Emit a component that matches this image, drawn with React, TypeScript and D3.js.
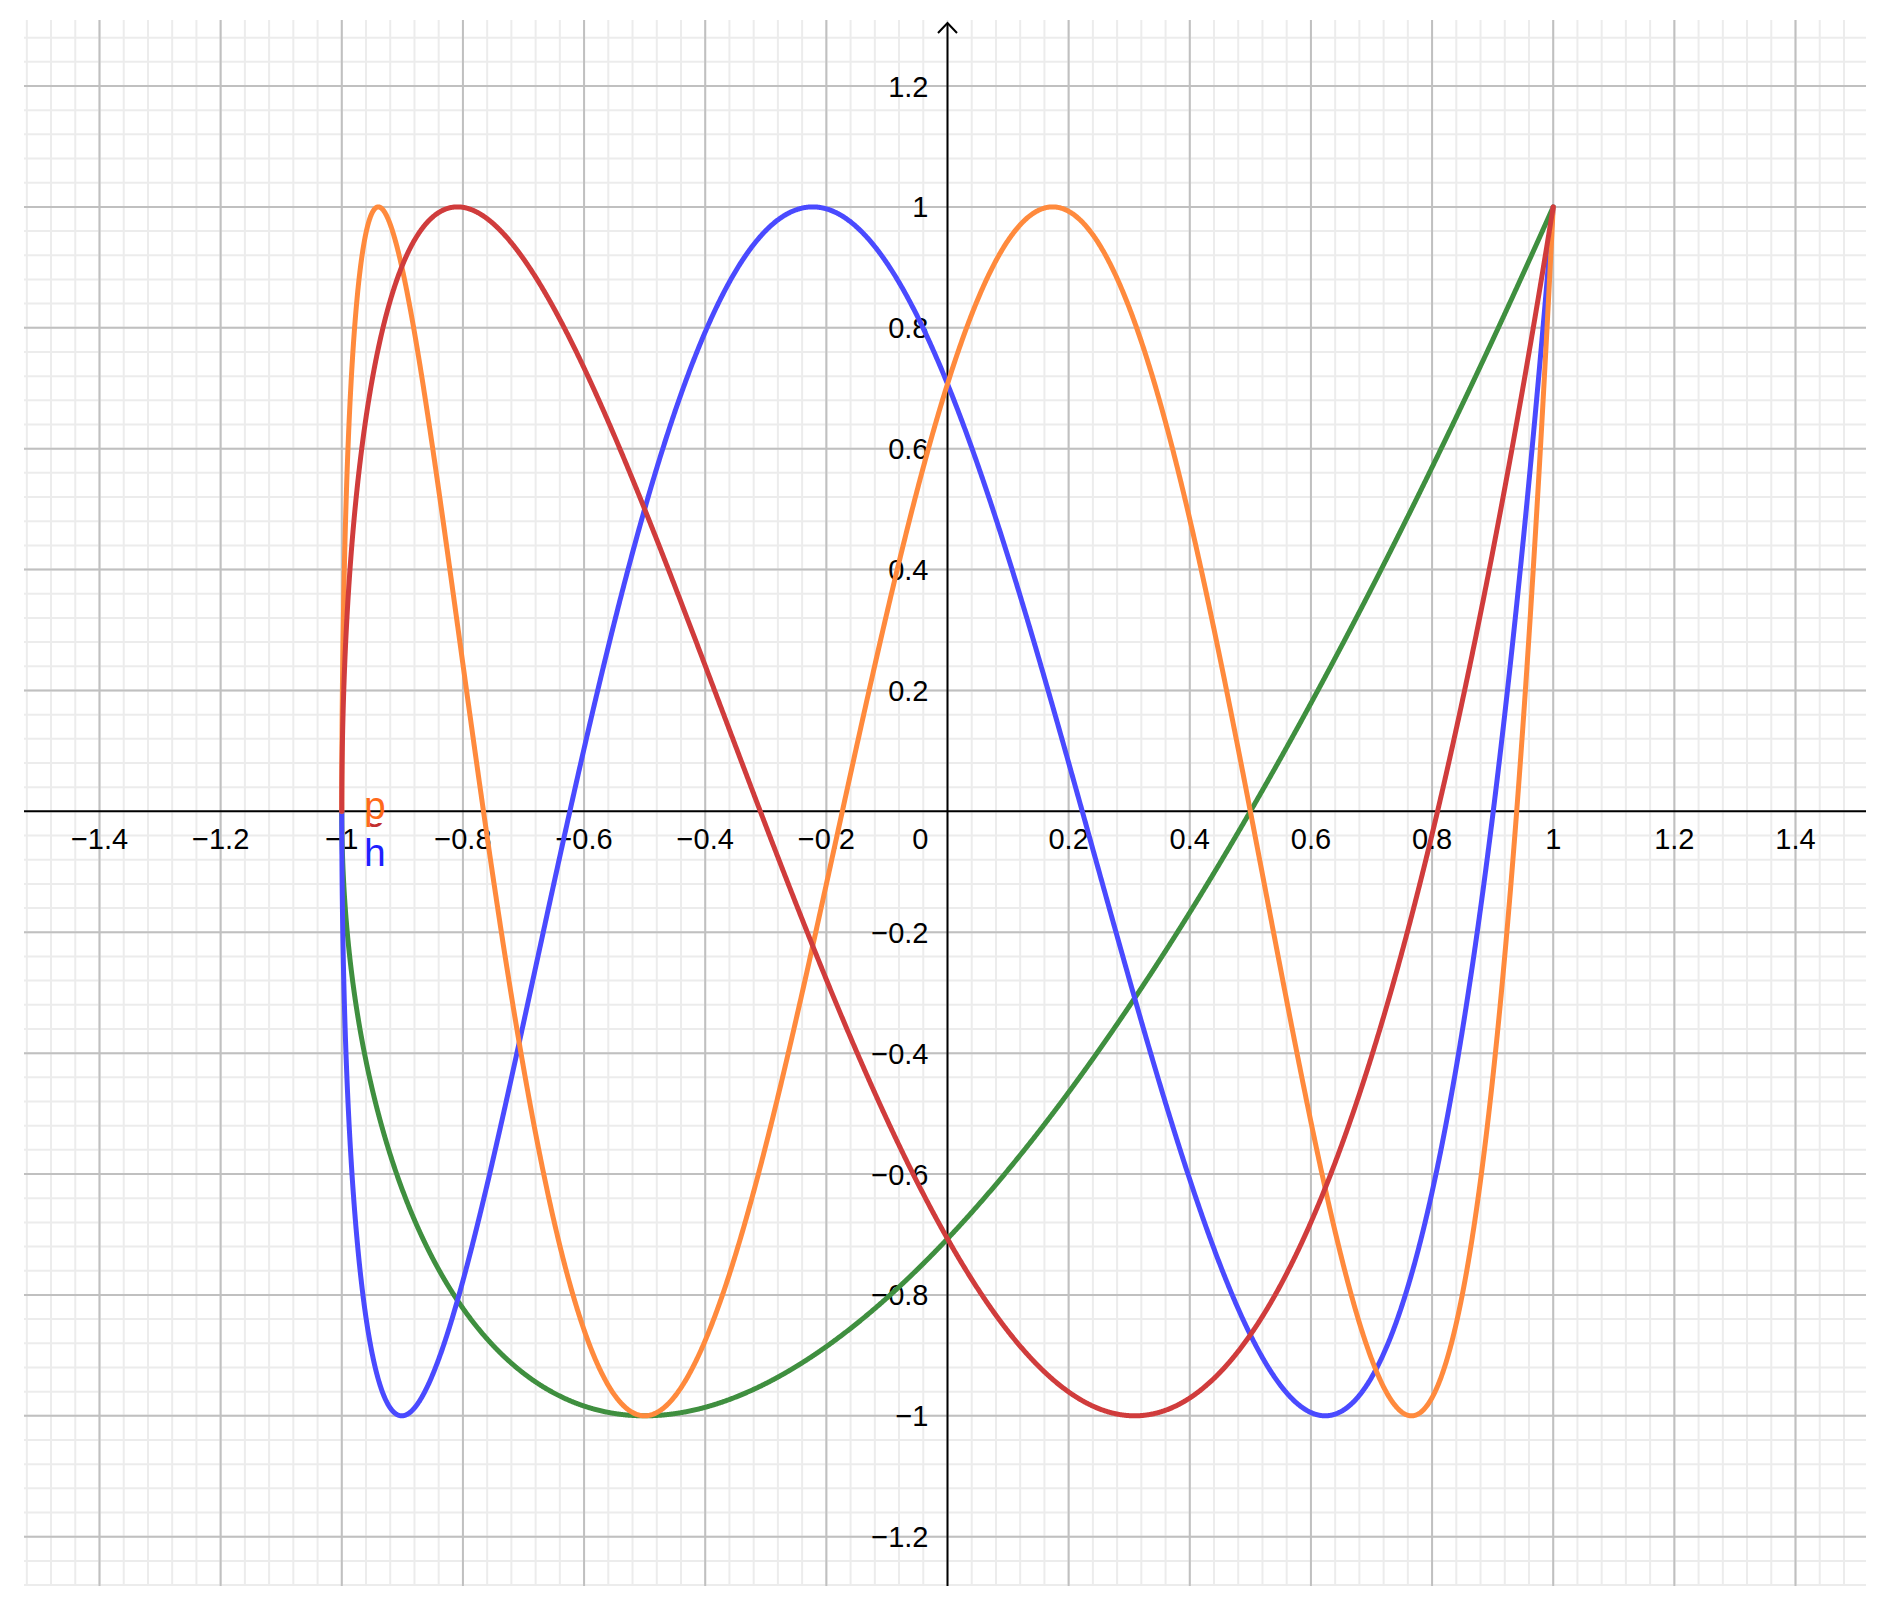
import React from "react";
import * as d3 from "d3";

// Curves: x = cos(t), y = cos(k t / 2), t in [0, π]  (GeoGebra-style parametric plot)
const curveNames = ["f", "g", "h", "p"];
const curveOrders = [3, 5, 7, 9];
const curveColors = ["#3f8f3f", "#d03c3c", "#4a4aff", "#ff8a3d"];
const drawOrder = [0, 2, 3, 1];

const xTickValues = [-1.4, -1.2, -1, -0.8, -0.6, -0.4, -0.2, 0.2, 0.4, 0.6, 0.8, 1, 1.2, 1.4];
const yTickValues = [1.2, 1, 0.8, 0.6, 0.4, 0.2, -0.2, -0.4, -0.6, -0.8, -1, -1.2];

const W = 1893;
const H = 1612;
const LEFT = 24;
const RIGHT = 1866;
const TOP = 20;
const BOTTOM = 1586;

const x = d3.scaleLinear().domain([-1.4, 1.4]).range([99.5, 1795.5]);
const y = d3.scaleLinear().domain([1.2, -1.2]).range([86, 1536.7]);

const fmt = (v: number) => {
  const s = d3.format("")(+v.toFixed(2));
  return s.replace("-", "\u2212");
};

function gridValues(scale: d3.ScaleLinear<number, number>, lo: number, hi: number, step: number) {
  const a = scale.invert(lo);
  const b = scale.invert(hi);
  const mn = Math.min(a, b);
  const mx = Math.max(a, b);
  const out: number[] = [];
  const start = Math.ceil(mn / step - 1e-9);
  const end = Math.floor(mx / step + 1e-9);
  for (let i = start; i <= end; i++) out.push(+(i * step).toFixed(6));
  return out;
}

export default function App() {
  const minorX = gridValues(x, LEFT, RIGHT, 0.04);
  const minorY = gridValues(y, TOP, BOTTOM, 0.04);
  const majorX = gridValues(x, LEFT, RIGHT, 0.2).filter((v) => Math.abs(v) > 1e-9);
  const majorY = gridValues(y, TOP, BOTTOM, 0.2).filter((v) => Math.abs(v) > 1e-9);

  const ts = d3.range(0, 3001).map((i) => (i / 3000) * Math.PI);
  const line = d3
    .line<[number, number]>()
    .x((d) => x(d[0]))
    .y((d) => y(d[1]));

  const paths = curveOrders.map((k) =>
    line(ts.map((t) => [Math.cos(t), Math.cos((k * t) / 2)] as [number, number]))
  );

  const font = "'Liberation Sans', Arial, sans-serif";
  const x0 = x(0);
  const y0 = y(0);

  return (
    <svg
      width={W}
      height={H}
      style={{ position: "absolute", left: 0, top: 0, background: "#fff" }}
    >
      <defs>
        <clipPath id="redLabelClip">
          <rect x={370} y={823} width={40} height={20} />
        </clipPath>
      </defs>
      <rect x={0} y={0} width={W} height={H} fill="#fff" />
      <g>
        {minorX.map((v) => (
          <line key={"mx" + v} x1={x(v)} x2={x(v)} y1={TOP} y2={BOTTOM} stroke="#ececec" strokeWidth={2} />
        ))}
        {minorY.map((v) => (
          <line key={"my" + v} x1={LEFT} x2={RIGHT} y1={y(v)} y2={y(v)} stroke="#ececec" strokeWidth={2} />
        ))}
        {majorX.map((v) => (
          <line key={"Mx" + v} x1={x(v)} x2={x(v)} y1={TOP} y2={BOTTOM} stroke="#c0c0c0" strokeWidth={2} />
        ))}
        {majorY.map((v) => (
          <line key={"My" + v} x1={LEFT} x2={RIGHT} y1={y(v)} y2={y(v)} stroke="#c0c0c0" strokeWidth={2} />
        ))}
      </g>
      {/* axes */}
      <line x1={LEFT} x2={RIGHT} y1={y0} y2={y0} stroke="#000" strokeWidth={2} />
      <line x1={x0} x2={x0} y1={23} y2={BOTTOM} stroke="#000" strokeWidth={2} />
      <polyline
        points={`${x0 - 9.5},${33} ${x0},${23} ${x0 + 9.5},${33}`}
        fill="none"
        stroke="#000"
        strokeWidth={2}
      />
      {/* tick labels */}
      <g fontFamily={font} fontSize={29} fill="#000">
        {xTickValues.map((v) => (
          <text key={"xt" + v} x={x(v)} y={y0 + 38} textAnchor="middle">
            {fmt(v)}
          </text>
        ))}
        {yTickValues.map((v) => (
          <text key={"yt" + v} x={x0 - 19} y={y(v) + 10.5} textAnchor="end">
            {fmt(v)}
          </text>
        ))}
        <text x={x0 - 19} y={y0 + 38} textAnchor="end">
          0
        </text>
      </g>
      {/* curves */}
      <g fill="none" strokeWidth={5} strokeLinecap="round" strokeLinejoin="round">
        {drawOrder.map((i) => (
          <path key={"c" + i} d={paths[i] || ""} stroke={curveColors[i]} />
        ))}
      </g>
      {/* curve labels */}
      <g fontFamily={font} fontSize={39}>
        <text x={364} y={819} fill="#c23030" clipPath="url(#redLabelClip)">
          {curveNames[1]}
        </text>
        <text x={364} y={819} fill="#ff6a1a">
          {curveNames[3]}
        </text>
        <text x={364} y={866} fill="#1f1fff">
          {curveNames[2]}
        </text>
      </g>
    </svg>
  );
}
